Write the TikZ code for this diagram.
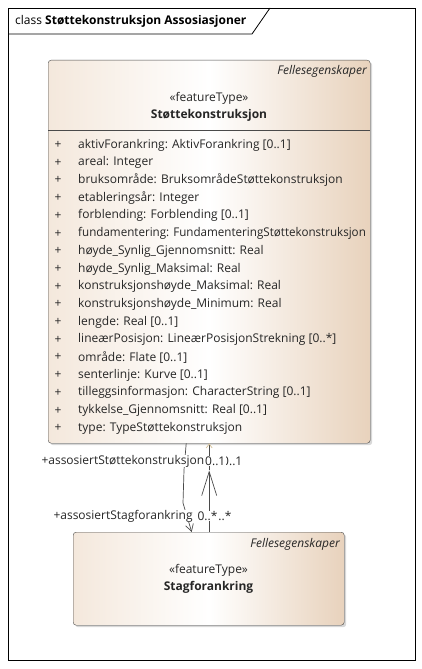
\documentclass[tikz,border=0pt]{standalone}
\usepackage{fontspec}
\setmainfont{Open Sans}
\usetikzlibrary{arrows.meta,shadows}
\definecolor{clsleft}{HTML}{F4E8DC}
\definecolor{clsright}{HTML}{E8D2BC}
\definecolor{tipcol}{HTML}{D6C29A}
\definecolor{edgecol}{HTML}{4A4A4A}
\begin{document}
\begin{tikzpicture}[x=1pt,y=-1pt,>={Straight Barb[length=7pt,width=8pt]},
  every node/.style={font=\fontsize{12}{14}\selectfont,inner sep=0pt,text=black!85},
  classbox/.style={draw=edgecol,rounded corners=3pt,left color=clsleft,right color=clsright,middle color=white,
    drop shadow={shadow xshift=2pt,shadow yshift=-2pt,opacity=0.3},anchor=north west},
  assoc/.style={draw=edgecol,line width=0.7pt},
  lbl/.style={fill=white,inner sep=0.3pt},
  endtip/.style={{Straight Barb[length=4pt,width=6pt,color=tipcol]}-}]

\useasboundingbox (0,0) rectangle (422,669);
\fill[white] (0,0) rectangle (422,669);

\draw[line width=0.8pt] (8,8) rectangle (415,660);
\draw[line width=0.8pt] (8,34) -- (252,34) -- (270,8);
\node[anchor=west,text=black] (title) at (15,21) {class \textbf{Støttekonstruksjon Assosiasjoner}};

\node[classbox,minimum width=322pt,minimum height=383pt] (stotte) at (48,60) {};
\draw[edgecol] ([yshift=-70pt]stotte.north west) -- ([yshift=-70pt]stotte.north east);
\node[anchor=east] (fellesstotte) at (367,71) {\itshape Fellesegenskaper};
\node (stereostotte) at (209,98) {«featureType»};
\node (namestotte) at (209,115) {\bfseries Støttekonstruksjon};

\foreach \attr [count=\i from 0] in {
  {aktivForankring: AktivForankring [0..1]},
  {areal: Integer},
  {bruksområde: BruksområdeStøttekonstruksjon},
  {etableringsår: Integer},
  {forblending: Forblending [0..1]},
  {\scalebox{0.968}[1]{fundamentering: FundamenteringStøttekonstruksjon}},
  {høyde\_Synlig\_Gjennomsnitt: Real},
  {høyde\_Synlig\_Maksimal: Real},
  {konstruksjonshøyde\_Maksimal: Real},
  {konstruksjonshøyde\_Minimum: Real},
  {lengde: Real [0..1]},
  {lineærPosisjon: LineærPosisjonStrekning [0..*]},
  {område: Flate [0..1]},
  {senterlinje: Kurve [0..1]},
  {tilleggsinformasjon: CharacterString [0..1]},
  {tykkelse\_Gjennomsnitt: Real [0..1]},
  {type: TypeStøttekonstruksjon}} {
  \node (plus\i) at (58,{145+17.7*\i}) {+};
  \node[anchor=west] (attr\i) at (78,{145+17.7*\i}) {\attr};
}

\node[classbox,minimum width=271pt,minimum height=93pt] (stag) at (73,532) {};
\node[anchor=east] (fellesstag) at (340,544) {\itshape Fellesegenskaper};
\node (stereostag) at (208.5,570) {«featureType»};
\node (namestag) at (208.5,587) {\bfseries Stagforankring};

\coordinate (btip) at ([yshift=-27pt]stotte.south);
\draw[assoc,endtip,->] ([xshift=-23pt]stotte.south) -- (184,470) -- (183,503) -- ([xshift=-17pt]stag.north);
\draw[assoc,endtip] (stotte.south) -- (btip);
\draw[assoc,->,>={Straight Barb[length=24pt,width=15pt]}] (stag.north -| btip) -- (btip);

\node[lbl,anchor=west] (rolestotte) at (41,461) {+assosiertStøttekonstruksjon};
\node[lbl,anchor=west] (multstotteB) at ([xshift=17pt]rolestotte.east) {0..1};
\node[lbl,anchor=west] (multstotteA) at (rolestotte.east) {0..1};

\node[lbl,anchor=west] (rolestag) at (53,516) {+assosiertStagforankring};
\node[lbl,anchor=west] (multstagB) at (211,516) {0..*};
\node[lbl,anchor=west] (multstagA) at (197,516) {0..*};

\end{tikzpicture}
\end{document}
